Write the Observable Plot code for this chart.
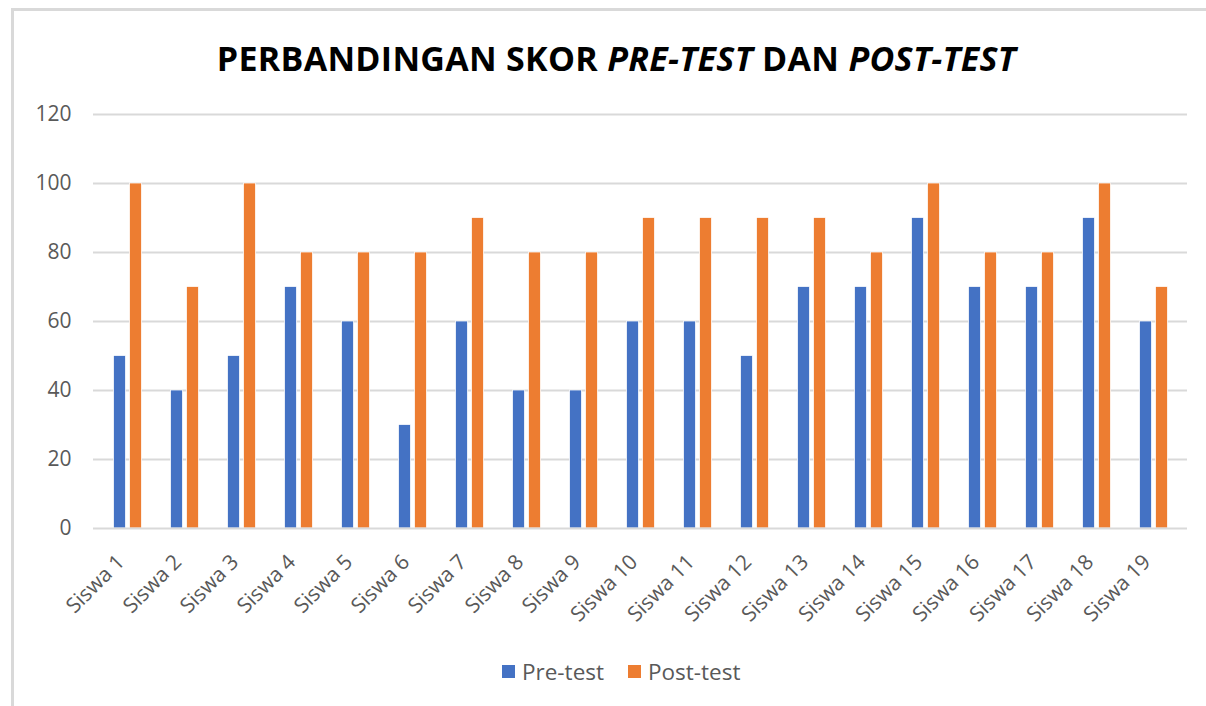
<!DOCTYPE html>
<html>
<head>
<meta charset="utf-8">
<script src="https://cdn.jsdelivr.net/npm/d3@7"></script>
<script src="https://cdn.jsdelivr.net/npm/@observablehq/plot@0.6"></script>
<style>
  html, body { margin: 0; padding: 0; background: #fff; width: 1206px; height: 706px; overflow: hidden; position: relative; font-family: "Open Sans", "Liberation Sans", sans-serif; }
  #frame { position: absolute; left: 11px; top: 8px; width: 1220px; height: 720px; border: 3px solid #d9d9d9; box-sizing: border-box; }
  #title { position: absolute; left: 0; width: 1233px; top: 35px; text-align: center; font-weight: 700; font-size: 34px; color: #000; letter-spacing: 0.3px; white-space: nowrap; }
  #chart { position: absolute; left: 0; top: 90px; }
  #legend { position: absolute; top: 656px; left: 502px; font-size: 22.5px; color: #595959; display: flex; align-items: center; }
  #legend span.sw { display: inline-block; width: 13px; height: 13px; margin-right: 7px; }
  #legend .item { display: flex; align-items: center; margin-right: 24px; }
</style>
</head>
<body>
<div id="frame"></div>
<div id="title">PERBANDINGAN SKOR <i>PRE-TEST</i> DAN <i>POST-TEST</i></div>
<div id="chart"></div>
<div id="legend"></div>
<script>
const categories = ["Siswa 1","Siswa 2","Siswa 3","Siswa 4","Siswa 5","Siswa 6","Siswa 7","Siswa 8","Siswa 9","Siswa 10","Siswa 11","Siswa 12","Siswa 13","Siswa 14","Siswa 15","Siswa 16","Siswa 17","Siswa 18","Siswa 19"];
const preTest  = [50,40,50,70,60,30,60,40,40,60,60,50,70,70,90,70,70,90,60];
const postTest = [100,70,100,80,80,80,90,80,80,90,90,90,90,80,100,80,80,100,70];
const seriesNames = ["Pre-test", "Post-test"];
const seriesColors = ["#4472C4", "#ED7D31"];
const yTicks = [0,20,40,60,80,100,120];

const preData = categories.map((c, i) => ({cat: c, value: preTest[i]}));
const postData = categories.map((c, i) => ({cat: c, value: postTest[i]}));

const chart = Plot.plot({
  width: 1206,
  height: 560,
  marginLeft: 93,
  marginRight: 19,
  marginTop: 24,
  marginBottom: 122,
  style: {fontFamily: "'Open Sans', sans-serif", fontSize: "20px", color: "#595959", background: "transparent"},
  x: {domain: categories, padding: 0, label: null},
  y: {domain: [0, 120], label: null},
  marks: [
    Plot.ruleY(yTicks.filter(d => d > 0), {stroke: "#d9d9d9", strokeWidth: 2}),
    Plot.barY(preData, {x: "cat", y: "value", fill: seriesColors[0], stroke: "white", strokeWidth: 0.75, insetLeft: 14.5, insetRight: 30.5}),
    Plot.barY(postData, {x: "cat", y: "value", fill: seriesColors[1], stroke: "white", strokeWidth: 0.75, insetLeft: 30.5, insetRight: 14.5}),
    Plot.ruleY([0], {stroke: "#d9d9d9", strokeWidth: 2}),
    Plot.axisY({ticks: yTicks, tickSize: 0, tickPadding: 22, fontSize: 21, fill: "#595959", label: null}),
    Plot.axisX({tickSize: 0, tickRotate: -45, tickPadding: 22, fontSize: 21, fill: "#595959", label: null, dx: -7, dy: 8})
  ]
});
document.getElementById("chart").appendChild(chart);

const legend = document.getElementById("legend");
seriesNames.forEach((n, i) => {
  const item = document.createElement("div");
  item.className = "item";
  item.innerHTML = `<span class="sw" style="background:${seriesColors[i]}"></span>${n}`;
  legend.appendChild(item);
});
</script>
</body>
</html>
